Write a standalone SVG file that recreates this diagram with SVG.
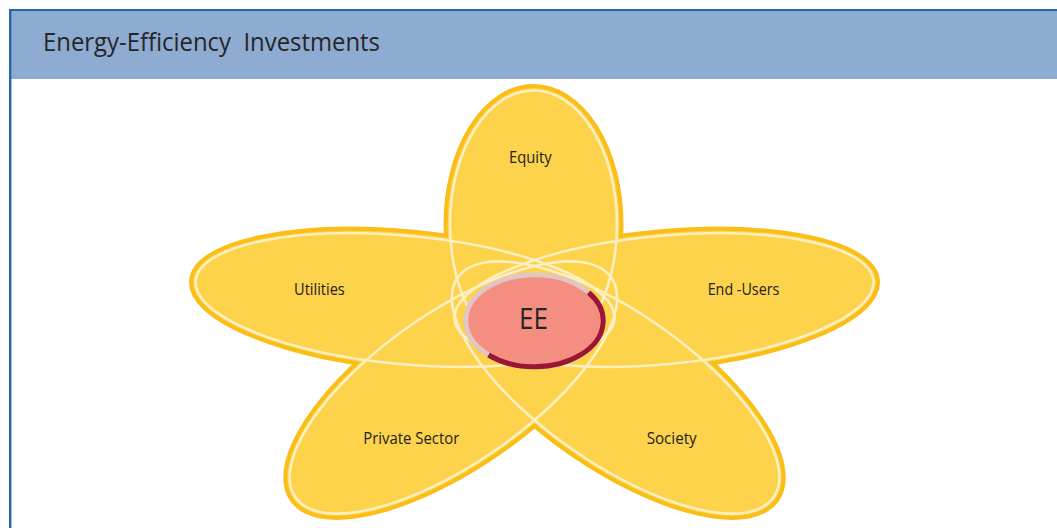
<svg xmlns="http://www.w3.org/2000/svg" width="1057" height="528" viewBox="0 0 1057 528">
<style>
.outline{fill:#fbbe16;stroke:#fbbe16;stroke-width:8}
.petal{fill:#fcd34b}
.hl{fill:none;stroke:#fdefc1;stroke-width:2.6}
.lbl{font-family:'Open Sans','Liberation Sans',sans-serif;font-size:17px;fill:#222222;text-anchor:middle}
</style>
<rect x="0" y="0" width="1057" height="528" fill="#ffffff"/>
<g id="header">
<rect x="10" y="10" width="1047" height="69" fill="#8eabd2"/>
<line x1="9" y1="10" x2="1057" y2="10" stroke="#2566ab" stroke-width="2"/>
<line x1="10.2" y1="9" x2="10.2" y2="528" stroke="#2566ab" stroke-width="2.4"/>
<text x="43" y="50.5" xml:space="preserve" textLength="337" lengthAdjust="spacingAndGlyphs" style="font-family:'Open Sans','Liberation Sans',sans-serif;font-size:26px;fill:#262626">Energy-Efficiency  Investments</text>
</g>
<g id="petal-outlines">
<ellipse class="outline" cx="0" cy="0" rx="86" ry="136.5" transform="translate(533.5 224.5)"/>
<ellipse class="outline" cx="0" cy="0" rx="212.8" ry="66.7" transform="translate(405 300) rotate(5.27)"/>
<ellipse class="outline" cx="0" cy="0" rx="212.8" ry="66.7" transform="translate(664 300) rotate(-5.27)"/>
<ellipse class="outline" cx="0" cy="0" rx="194.9" ry="78" transform="translate(453.4 387.5) rotate(-34.8)"/>
<ellipse class="outline" cx="0" cy="0" rx="194.9" ry="78" transform="translate(615.6 387.5) rotate(34.8)"/>
</g>
<g id="node-equity">
<ellipse class="petal" cx="0" cy="0" rx="86" ry="136.5" transform="translate(533.5 224.5)"/>
<text class="lbl" x="530.3" y="163.3" textLength="42.7" lengthAdjust="spacingAndGlyphs">Equity</text>
</g>
<g id="node-utilities">
<ellipse class="petal" cx="0" cy="0" rx="212.8" ry="66.7" transform="translate(405 300) rotate(5.27)"/>
<text class="lbl" x="319.4" y="295" textLength="50.7" lengthAdjust="spacingAndGlyphs">Utilities</text>
</g>
<g id="node-end-users">
<ellipse class="petal" cx="0" cy="0" rx="212.8" ry="66.7" transform="translate(664 300) rotate(-5.27)"/>
<text class="lbl" x="743.5" y="295" textLength="71.6" lengthAdjust="spacingAndGlyphs">End -Users</text>
</g>
<g id="node-private-sector">
<ellipse class="petal" cx="0" cy="0" rx="194.9" ry="78" transform="translate(453.4 387.5) rotate(-34.8)"/>
<text class="lbl" x="411.3" y="444" textLength="96" lengthAdjust="spacingAndGlyphs">Private Sector</text>
</g>
<g id="node-society">
<ellipse class="petal" cx="0" cy="0" rx="194.9" ry="78" transform="translate(615.6 387.5) rotate(34.8)"/>
<text class="lbl" x="671.7" y="444" textLength="50" lengthAdjust="spacingAndGlyphs">Society</text>
</g>
<g id="petal-highlights">
<ellipse class="hl" cx="0" cy="0" rx="83.5" ry="134" transform="translate(533.5 224.5)"/>
<ellipse class="hl" cx="0" cy="0" rx="210.3" ry="64.2" transform="translate(405 300) rotate(5.27)"/>
<ellipse class="hl" cx="0" cy="0" rx="210.3" ry="64.2" transform="translate(664 300) rotate(-5.27)"/>
<ellipse class="hl" cx="0" cy="0" rx="192.4" ry="75.5" transform="translate(453.4 387.5) rotate(-34.8)"/>
<ellipse class="hl" cx="0" cy="0" rx="192.4" ry="75.5" transform="translate(615.6 387.5) rotate(34.8)"/>
</g>
<g id="node-ee">
<ellipse cx="534.5" cy="320.8" rx="68.7" ry="46" fill="#f48e80" stroke="#e2c6c1" stroke-width="5"/>
<path d="M 588.6 292.5 A 68.7 46 0 0 1 488.5 355.0" fill="none" stroke="#9b1535" stroke-width="5"/>
<text x="533.5" y="329.3" textLength="29" lengthAdjust="spacingAndGlyphs" style="font-family:'Open Sans','Liberation Sans',sans-serif;font-size:29px;fill:#262626;text-anchor:middle">EE</text>
</g>
</svg>
